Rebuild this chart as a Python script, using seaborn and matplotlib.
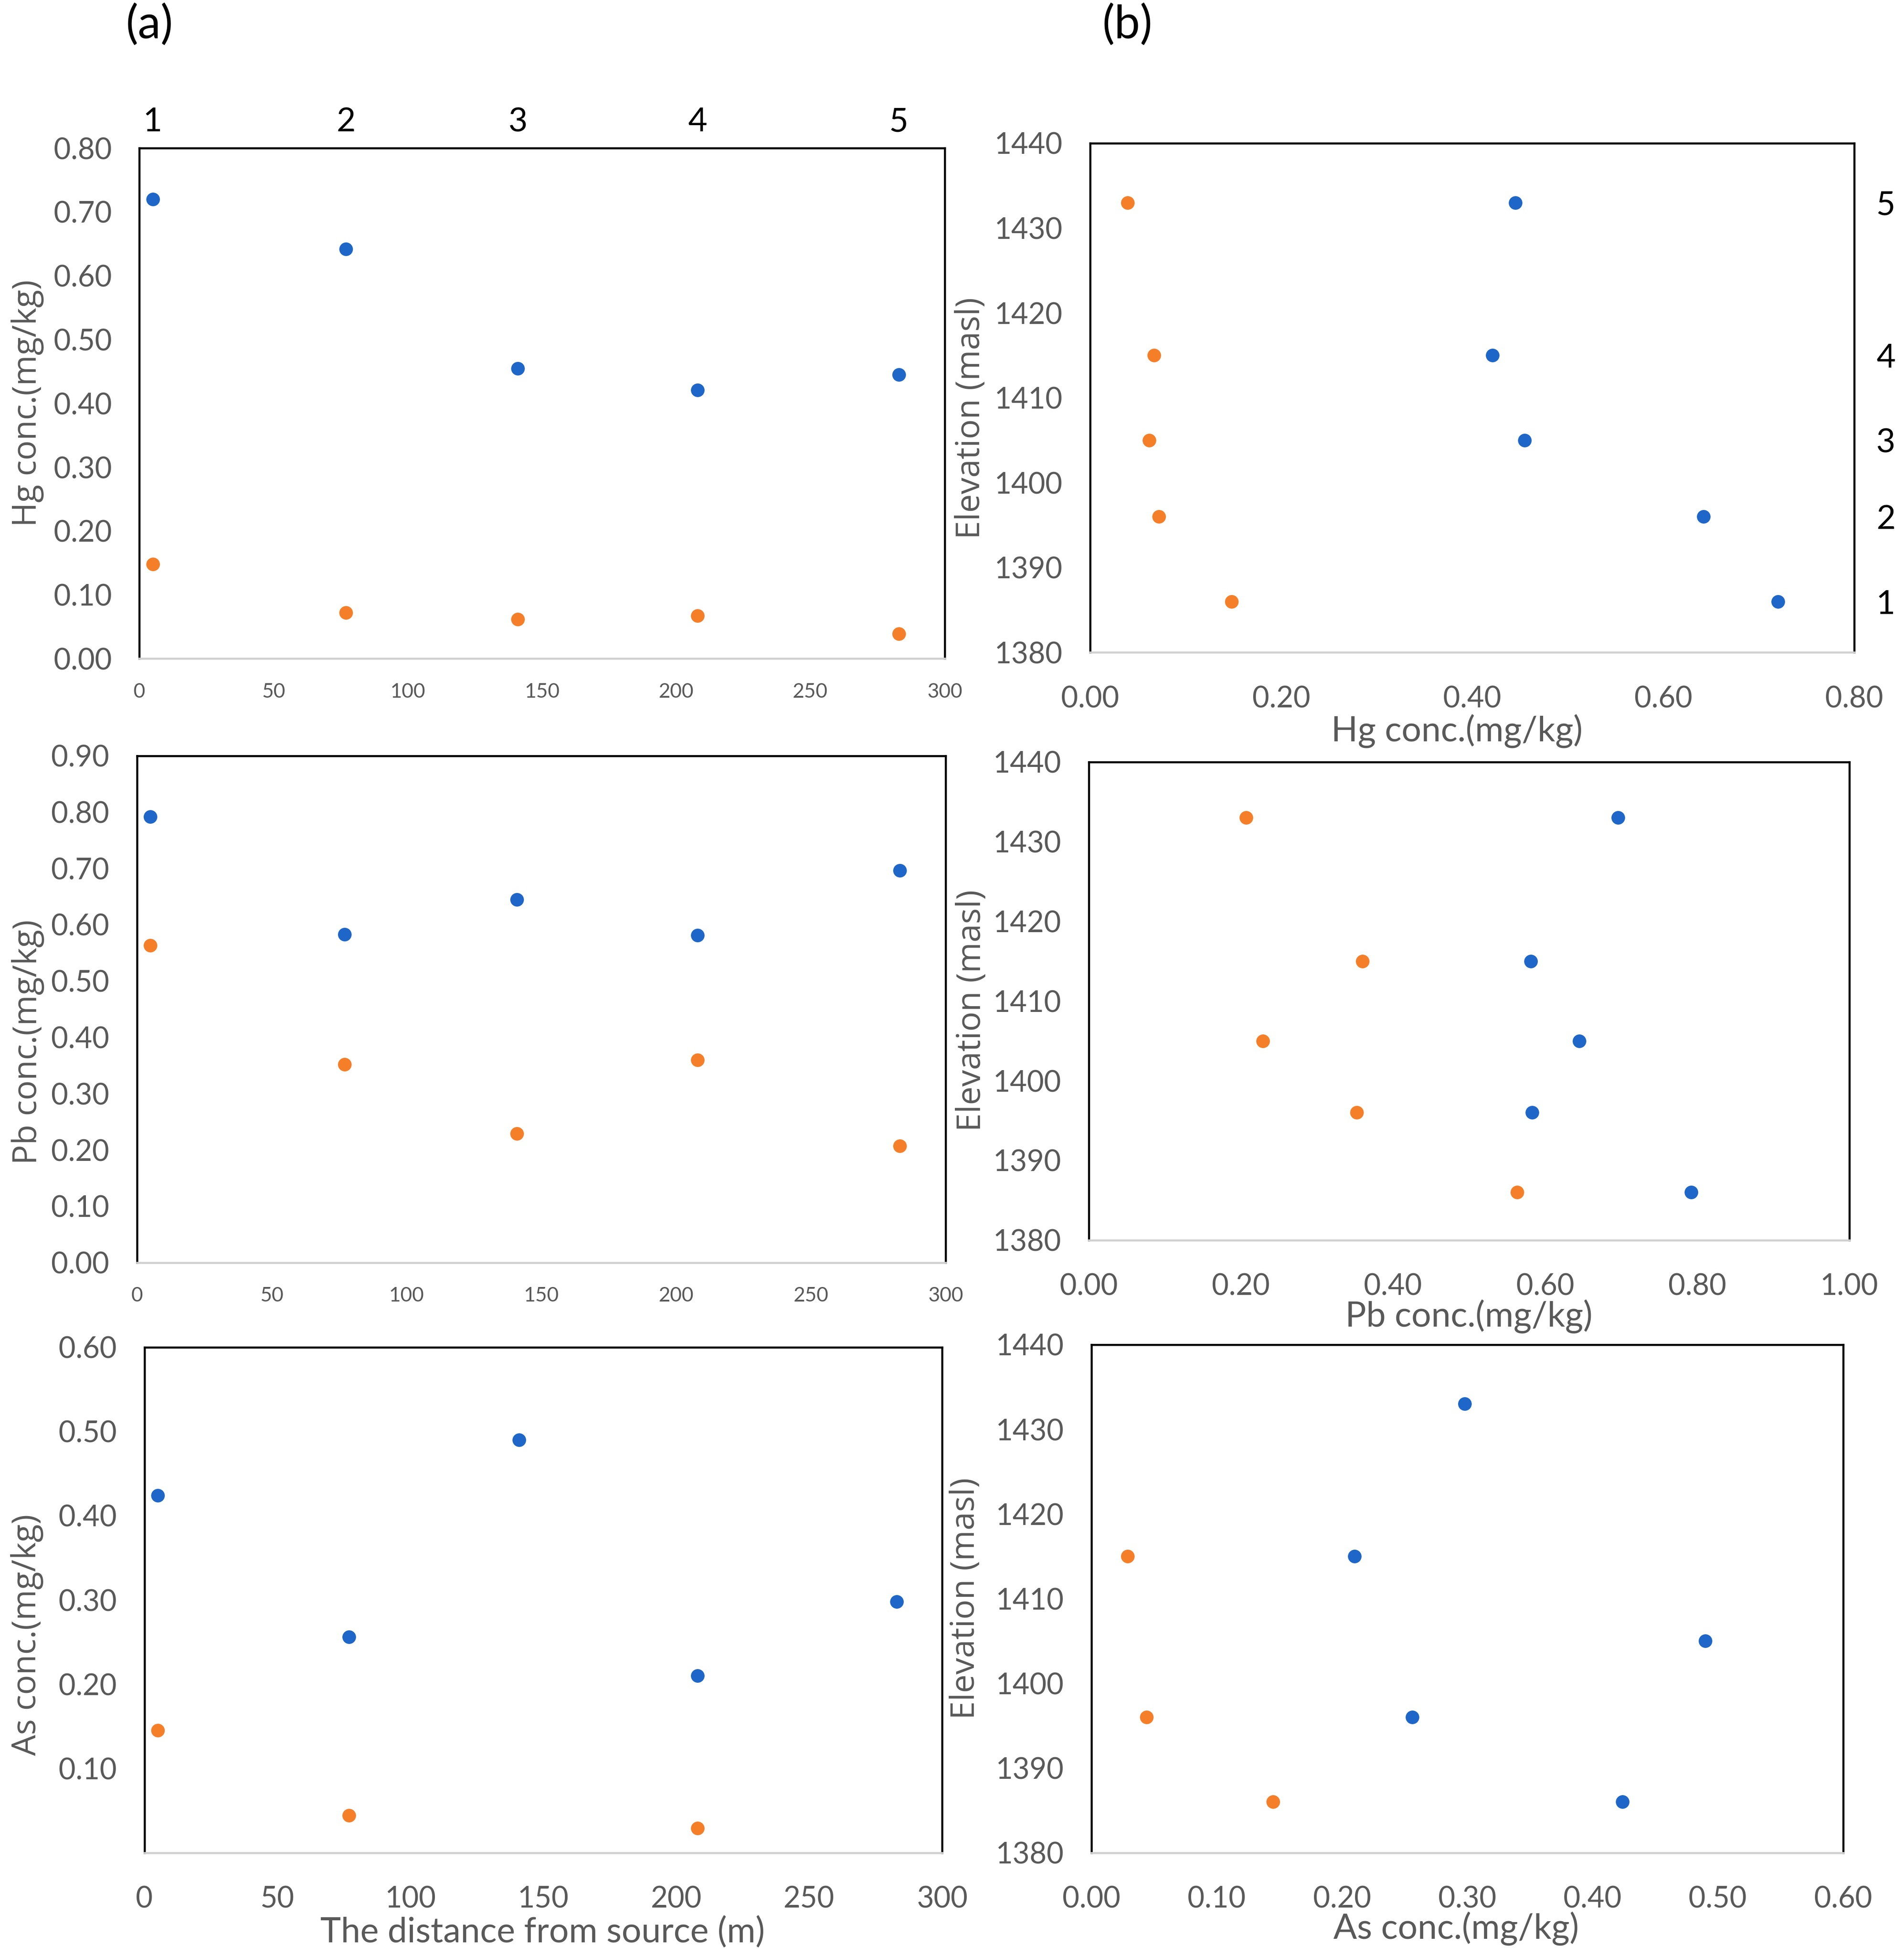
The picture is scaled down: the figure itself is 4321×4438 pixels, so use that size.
import numpy as np
import pandas as pd
import matplotlib
matplotlib.use("Agg")
import matplotlib.pyplot as plt
from matplotlib.ticker import FormatStrFormatter
import seaborn as sns

# ---------------- data ----------------
site = ["1", "2", "3", "4", "5"]
distance = [5, 77, 141, 208, 283]            # m from source
elevation = [1386, 1396, 1405, 1415, 1433]   # masl

hg_blue = [0.720, 0.642, 0.455, 0.421, 0.445]
hg_orange = [0.148, 0.072, 0.062, 0.067, 0.039]
pb_blue = [0.792, 0.583, 0.645, 0.581, 0.696]
pb_orange = [0.563, 0.352, 0.229, 0.360, 0.207]
as_blue = [0.424, 0.256, 0.490, 0.210, 0.298]
as_orange = [0.145, 0.044, np.nan, 0.029, np.nan]

dist_ticks = [0, 50, 100, 150, 200, 250, 300]
elev_ticks = [1380, 1390, 1400, 1410, 1420, 1430, 1440]
hg_ticks = [0.0, 0.1, 0.2, 0.3, 0.4, 0.5, 0.6, 0.7, 0.8]
pb_ticks = [0.0, 0.1, 0.2, 0.3, 0.4, 0.5, 0.6, 0.7, 0.8, 0.9]
as_ticks_a = [0.1, 0.2, 0.3, 0.4, 0.5, 0.6]
hg_ticks_b = [0.0, 0.2, 0.4, 0.6, 0.8]
pb_ticks_b = [0.0, 0.2, 0.4, 0.6, 0.8, 1.0]
as_ticks_b = [0.0, 0.1, 0.2, 0.3, 0.4, 0.5, 0.6]

# ---------------- style ----------------
sns.set_theme(style="white")
plt.rcParams["font.family"] = ["Lato", "DejaVu Sans"]

BLUE = "#1E66C8"
ORANGE = "#F57F29"
GREY = "#595959"
AXIS_GREY = "#D0D0D0"
TICK_FS = 16
SMALL_FS = 11
YLABEL_FS = 18
XLABEL_FS = 19
MS = 55

W, H = 4321, 4438
DPI = 300
fig = plt.figure(figsize=(W / DPI, H / DPI), dpi=DPI)
fig.patch.set_facecolor("white")

DW, DH = 1530.0, 1571.0


def add_axes(l, r, t, b):
    return fig.add_axes([l / DW, 1 - b / DH, (r - l) / DW, (b - t) / DH])


def style_axes(ax):
    for s in ["top", "left", "right"]:
        ax.spines[s].set_color("black")
        ax.spines[s].set_linewidth(1.1)
        ax.spines[s].set_visible(True)
    ax.spines["bottom"].set_color(AXIS_GREY)
    ax.spines["bottom"].set_linewidth(1.1)
    ax.spines["bottom"].set_visible(True)
    ax.tick_params(length=0, colors=GREY)
    ax.grid(False)
    ax.set_facecolor("white")


def scatter(ax, x, y):
    sns.scatterplot(x=x[0], y=y[0], color=BLUE, s=MS, linewidth=0, ax=ax, legend=False, zorder=3)
    sns.scatterplot(x=x[1], y=y[1], color=ORANGE, s=MS, linewidth=0, ax=ax, legend=False, zorder=3)


def ylab(ax, text, xc, yc, font="Open Sans"):
    ax.set_ylabel(text, fontsize=YLABEL_FS, color=GREY, family=[font, "DejaVu Sans"])
    ax.yaxis.label.set_va("center")
    ax.yaxis.set_label_coords(xc, yc)


def xlab(ax, text, xc, yc):
    ax.set_xlabel(text, fontsize=XLABEL_FS, color=GREY)
    ax.xaxis.label.set_va("center")
    ax.xaxis.set_label_coords(xc, yc)


# ---------------- (a) column: concentration vs distance ----------------
ax_a1 = add_axes(112, 759, 119, 529)
ax_a2 = add_axes(110, 760, 607, 1014)
ax_a3 = add_axes(116, 757, 1082, 1488)

panels_a = [
    (ax_a1, hg_blue, hg_orange, hg_ticks, (0, 0.8), "Hg conc.(mg/kg)", -0.139, 0.50),
    (ax_a2, pb_blue, pb_orange, pb_ticks, (0, 0.9), "Pb conc.(mg/kg)", -0.135, 0.435),
    (ax_a3, as_blue, as_orange, as_ticks_a, (0, 0.6), "As conc.(mg/kg)", -0.147, 0.431),
]
for i, (ax, yb, yo, yt, yl, lab, lx, ly) in enumerate(panels_a):
    style_axes(ax)
    scatter(ax, (distance, distance), (yb, yo))
    ax.set_xlim(0, 300)
    ax.set_ylim(*yl)
    ax.set_xticks(dist_ticks)
    ax.set_yticks(yt)
    ax.yaxis.set_major_formatter(FormatStrFormatter("%.2f"))
    ax.tick_params(axis="y", labelsize=TICK_FS, pad=15)
    if i < 2:
        ax.tick_params(axis="x", labelsize=SMALL_FS, pad=13)
    else:
        ax.tick_params(axis="x", labelsize=TICK_FS, pad=18)
    ylab(ax, lab, lx, ly)

xlab(ax_a3, "The distance from source (m)", 0.499, -0.158)

# site numbers on top of first panel
sec = ax_a1.secondary_xaxis("top")
sec.set_xticks(distance, labels=site)
sec.tick_params(length=0, labelsize=18, colors="black", pad=6)
sec.spines["top"].set_visible(False)

# ---------------- (b) column: elevation vs concentration ----------------
ax_b1 = add_axes(876, 1490, 115, 524)
ax_b2 = add_axes(875, 1486, 612, 996)
ax_b3 = add_axes(877, 1481, 1080, 1488)

panels_b = [
    (ax_b1, hg_blue, hg_orange, hg_ticks_b, (0, 0.8), "Hg conc.(mg/kg)", 0.48, -0.155, -0.156, 0.46),
    (ax_b2, pb_blue, pb_orange, pb_ticks_b, (0, 1.0), "Pb conc.(mg/kg)", 0.50, -0.16, -0.154, 0.48),
    (ax_b3, as_blue, as_orange, as_ticks_b, (0, 0.6), "As conc.(mg/kg)", 0.485, -0.15, -0.167, 0.50),
]
for ax, xb, xo, xt, xl, lab, lx, ly, ylx, yly in panels_b:
    style_axes(ax)
    scatter(ax, (xb, xo), (elevation, elevation))
    ax.set_xlim(*xl)
    ax.set_ylim(1380, 1440)
    ax.set_xticks(xt)
    ax.xaxis.set_major_formatter(FormatStrFormatter("%.2f"))
    ax.set_yticks(elev_ticks)
    ax.tick_params(axis="both", labelsize=TICK_FS)
    ax.tick_params(axis="y", pad=15)
    ax.tick_params(axis="x", pad=18)
    xlab(ax, lab, lx, ly)
    ylab(ax, "Elevation (masl)", ylx, yly)

sec_r = ax_b1.secondary_yaxis("right")
sec_r.set_yticks(elevation, labels=site)
sec_r.tick_params(length=0, labelsize=18, colors="black", pad=12)
sec_r.spines["right"].set_visible(False)

# panel letters
fig.text(120 / DW, 1 - 20 / DH, "(a)", fontsize=25, color="black", ha="center", va="center")
fig.text(906 / DW, 1 - 20 / DH, "(b)", fontsize=25, color="black", ha="center", va="center")

fig.savefig("out.png", dpi=DPI, facecolor="white")
